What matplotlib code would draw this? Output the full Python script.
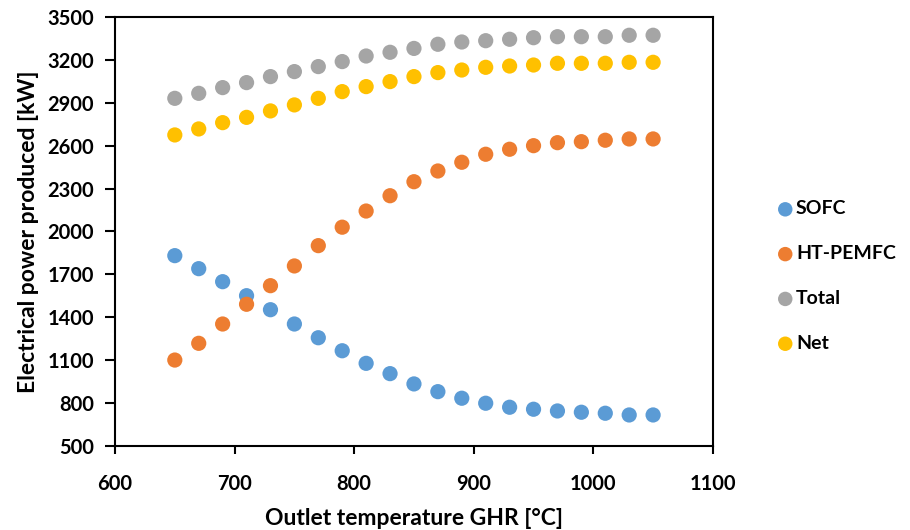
import matplotlib
matplotlib.use('Agg')
import matplotlib.pyplot as plt

plt.rcParams['font.family'] = ['Lato', 'DejaVu Sans']

temperature = [650, 670, 690, 710, 730, 750, 770, 790, 810, 830, 850,
               870, 890, 910, 930, 950, 970, 990, 1010, 1030, 1050]
sofc = [1831, 1740, 1649, 1551, 1453, 1353, 1257, 1166, 1078, 1006, 934,
        880, 834, 799, 771, 757, 745, 736, 729, 717, 717]
ht_pemfc = [1101, 1218, 1353, 1491, 1621, 1759, 1901, 2030, 2143, 2250, 2348,
            2423, 2484, 2540, 2575, 2600, 2621, 2628, 2638, 2647, 2647]
total = [2931, 2966, 3006, 3041, 3083, 3118, 3153, 3188, 3227, 3253, 3280,
         3309, 3325, 3334, 3344, 3355, 3362, 3362, 3362, 3372, 3372]
net = [2675, 2717, 2761, 2798, 2843, 2885, 2931, 2978, 3013, 3048, 3083,
       3111, 3129, 3148, 3157, 3164, 3176, 3176, 3176, 3183, 3183]

series = [('SOFC', sofc, '#5B9BD5'),
          ('HT-PEMFC', ht_pemfc, '#ED7D31'),
          ('Total', total, '#A5A5A5'),
          ('Net', net, '#FFC000')]

fig = plt.figure(figsize=(9.1, 5.3), dpi=100)
ax = fig.add_axes([0.1264, 0.1585, 0.657, 0.8095])

for name, vals, col in series:
    ax.scatter(temperature, vals, s=120, color=col, edgecolors='none', label=name, zorder=3)

ax.set_xlim(600, 1100)
ax.set_ylim(500, 3500)
ax.set_xticks(range(600, 1101, 100))
ax.set_yticks(range(500, 3501, 300))

for sp in ax.spines.values():
    sp.set_linewidth(1.5)
    sp.set_color('black')

ax.tick_params(axis='both', direction='out', width=1.5, labelsize=14.5, colors='black')
ax.tick_params(axis='y', length=7, pad=8)
ax.tick_params(axis='x', length=6, pad=14)
for lab in ax.get_xticklabels() + ax.get_yticklabels():
    lab.set_fontweight('bold')

ax.set_xlabel('Outlet temperature GHR [°C]', fontsize=16.5, fontweight='bold', labelpad=10)
ax.set_ylabel('Electrical power produced [kW]', fontsize=16.5, fontweight='bold', labelpad=6)

leg = fig.legend(loc='center left', bbox_to_anchor=(0.833, 0.479), frameon=False,
                 prop={'weight': 'bold', 'size': 14}, labelspacing=1.43,
                 handletextpad=0.05, handlelength=1.0, markerscale=0.95)

fig.savefig('out.png', dpi=100)
